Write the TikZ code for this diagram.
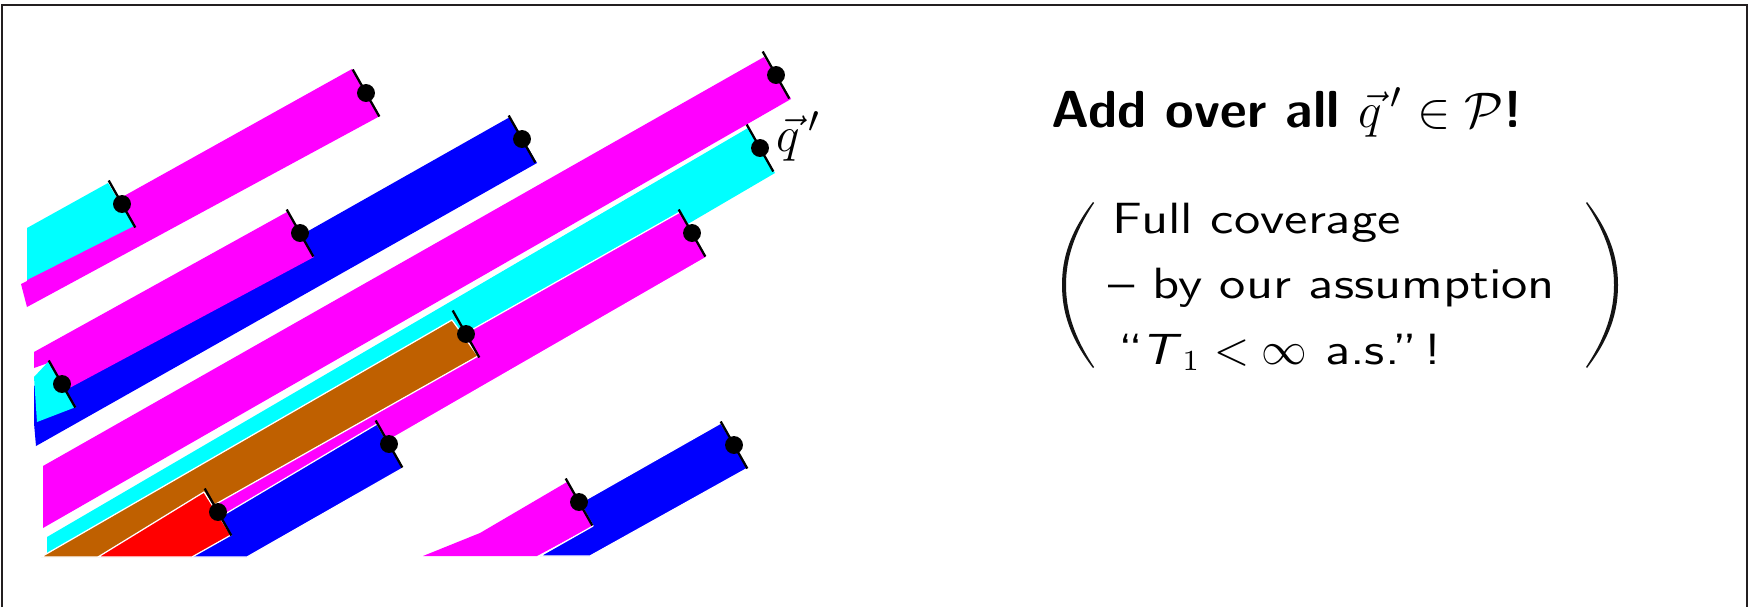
\documentclass[tikz,border=0pt]{standalone}
\usepackage{fontspec}
\newfontfamily\slidesf{lmsans10-regular.otf}[Ligatures=TeX, FakeStretch=1.2, ItalicFont=lmsans10-oblique.otf]
\definecolor{brownish}{RGB}{191,96,0}
\definecolor{framegray}{RGB}{35,31,32}
\definecolor{mag}{RGB}{255,0,255}
\definecolor{cya}{RGB}{0,255,255}
\definecolor{blu}{RGB}{0,0,255}
\definecolor{rd}{RGB}{255,0,0}
\begin{document}
\begin{tikzpicture}[x=0.24pt,y=-0.24pt,
  wstrip/.style={draw=white,line width=0.3pt,line join=round},
  tickline/.style={draw=black,line width=0.55pt},
  paren/.style={fill=black!92},
  txt/.style={anchor=base west,inner sep=0pt}]
\useasboundingbox (0,0) rectangle (1751,607);
\fill[white] (0,0) rectangle (1751,607);
\draw[framegray,line width=0.6pt] (2,607) -- (2,5) -- (1747,5) -- (1747,607);

% group 1
\fill[mag] (21,284) -- (27,281) -- (27,250) -- (352,69) -- (380,116) -- (27,307) -- cycle;
\fill[cya] (27,228) -- (108,183) -- (134,226) -- (27,280) -- cycle;
% group 2
\fill[blu] (34,386) -- (510,117) -- (537,163) -- (36,446) -- (34,423) -- cycle;
\fill[mag] (34,352) -- (287,212) -- (314,257) -- (62,392) -- (48,363) -- (34,368) -- cycle;
\fill[cya] (34,377) -- (49,361) -- (76,407) -- (37,422) -- cycle;
% group 3
\fill[mag] (43,466) -- (764,57) -- (791,99) -- (43,528) -- cycle;
% group 4
\fill[cya] (47,537) -- (748,128) -- (775,173) -- (120,556) -- (47,556) -- cycle;
\filldraw[fill=mag,wstrip] (72,556) -- (680,212) -- (707,257) -- (188,556) -- cycle;
\filldraw[fill=blu,wstrip] (377,424) -- (403,468) -- (247,557) -- (192,557) -- (215,520) -- cycle;
\filldraw[fill=brownish,wstrip] (41,557) -- (452,320) -- (478,356) -- (122,557) -- cycle;
\filldraw[fill=rd,wstrip] (98,557) -- (204,492) -- (231,535) -- (192,557) -- cycle;
% group 5
\fill[mag] (423,556) -- (480,533) -- (567,482) -- (593,526) -- (537,556) -- cycle;
\filldraw[fill=blu,wstrip] (721,423) -- (748,468) -- (590,556) -- (540,556) -- (593,526) -- (580,503) -- cycle;

% strip ends
\coordinate (D1) at (366,93);
\coordinate (D2) at (122,204);
\coordinate (D3) at (522,139);
\coordinate (D4) at (300,233);
\coordinate (D5) at (62,384);
\coordinate (D6) at (776,75);
\coordinate (D7) at (760,148);
\coordinate (D8) at (692,233);
\coordinate (D9) at (466,334);
\coordinate (D10) at (218,512);
\coordinate (D11) at (389,444);
\coordinate (D12) at (579,502);
\coordinate (D13) at (734,445);
\foreach \d in {D1,D2,D3,D4,D5,D6,D7,D8,D9,D10,D11,D12,D13}{
  \draw[tickline] (\d) ++(-13.3,-23.5) -- ++(26.6,47);
  \fill[black] (\d) circle[radius=2.15pt];
}

\node[txt,font=\fontsize{12.5}{15}\selectfont] (qlab) at (776,151) {$\vec{q}\,'$};

\node[txt,font=\fontsize{12.5}{15}\selectfont\sffamily\bfseries] (head) at (1051,127)
  {Add over all $\vec{q}\,'\in\mathcal{P}$!};

% big parentheses
\fill[paren] (1093,202) .. controls (1070,232) and (1062,258) .. (1062,285)
  .. controls (1062,312) and (1070,338) .. (1093,368)
  -- (1094,367) .. controls (1074,337) and (1066,311) .. (1066,285)
  .. controls (1066,259) and (1074,233) .. (1094,203) -- cycle;
\fill[paren] (1587,202) .. controls (1610,232) and (1618,258) .. (1618,285)
  .. controls (1618,312) and (1610,338) .. (1587,368)
  -- (1586,367) .. controls (1606,337) and (1614,311) .. (1614,285)
  .. controls (1614,259) and (1606,233) .. (1586,203) -- cycle;

\node[txt,font=\slidesf\fontsize{10.5}{12}\selectfont] (l1) at (1112,233) {Full coverage};
\node[txt,font=\slidesf\fontsize{10.5}{12}\selectfont] (l2) at (1108,298) {-- by our assumption};
\node[txt,font=\slidesf\fontsize{10.5}{12}\selectfont] (l3) at (1118,364)
  {``\kern-0.06em\textit{T}$_1 < \infty$ a.s.''\,!};
\end{tikzpicture}
\end{document}
